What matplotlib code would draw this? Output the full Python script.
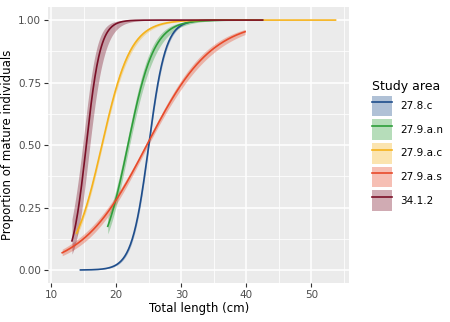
import numpy as np
import matplotlib
matplotlib.use("Agg")
import matplotlib.pyplot as plt
from matplotlib.patches import Patch
from matplotlib.lines import Line2D

# Logistic maturity ogives: L50 (cm), slope, length range,
# and the spread of the confidence band (logit scale).
areas = ["27.8.c", "27.9.a.n", "27.9.a.c", "27.9.a.s", "34.1.2"]
l50 = [25.0, 21.8, 17.8, 24.7, 15.4]
slope = [0.77, 0.50, 0.45, 0.20, 0.92]
x_min = [14.5, 18.7, 13.9, 11.7, 13.2]
x_max = [42.5, 41.0, 53.7, 39.8, 42.5]
se0 = [0.06, 0.13, 0.06, 0.05, 0.50]
se1 = [0.03, 0.06, 0.025, 0.015, 0.20]

line_colors = ["#1F4E8C", "#2E9E3A", "#F5B21C", "#E84A2A", "#7A1027"]

x_ticks = [10, 20, 30, 40, 50]
y_ticks = [0.0, 0.25, 0.50, 0.75, 1.00]

fig = plt.figure(figsize=(4.5, 3.22), dpi=100)
ax = fig.add_axes([0.107, 0.121, 0.669, 0.857])
ax.set_facecolor("#EBEBEB")

handles = []
for i, name in enumerate(areas):
    x = np.linspace(x_min[i], x_max[i], 300)
    eta = slope[i] * (x - l50[i])
    hw = np.sqrt(se0[i] ** 2 + (se1[i] * (x - l50[i])) ** 2)
    p = 1 / (1 + np.exp(-eta))
    lo = 1 / (1 + np.exp(-(eta - hw)))
    hi = 1 / (1 + np.exp(-(eta + hw)))
    ax.fill_between(x, lo, hi, color=line_colors[i], alpha=0.35, lw=0, zorder=2)
    ax.plot(x, p, color=line_colors[i], lw=1.2, zorder=3)
    handles.append((Patch(facecolor=line_colors[i], alpha=0.35, edgecolor="none"),
                    Line2D([], [], color=line_colors[i], lw=1.2)))

ax.set_xlim(9.54, 55.8)
ax.set_ylim(-0.052, 1.052)
ax.set_xticks(x_ticks)
ax.set_yticks(y_ticks)
ax.set_yticklabels(["%.2f" % v for v in y_ticks])
ax.set_xticks([15, 25, 35, 45, 55], minor=True)
ax.set_yticks([0.125, 0.375, 0.625, 0.875], minor=True)
ax.grid(which="major", color="white", lw=1.1)
ax.grid(which="minor", color="white", lw=0.55)
ax.set_axisbelow(True)
for s in ax.spines.values():
    s.set_visible(False)
ax.tick_params(which="major", length=3, width=0.8, color="#333333",
               labelsize=7.5, labelcolor="#4D4D4D", pad=2)
ax.tick_params(which="minor", length=0)

ax.set_xlabel("Total length (cm)", fontsize=8.5, color="black", labelpad=1.5)
ax.set_ylabel("Proportion of mature individuals", fontsize=8.5, color="black", labelpad=3)

leg = fig.legend(handles, areas, loc="upper left", bbox_to_anchor=(0.818, 0.765),
                 frameon=False, fontsize=7.5, title="Study area", title_fontsize=9,
                 handlelength=1.9, handleheight=2.7, labelspacing=0.27,
                 handletextpad=0.8, alignment="left", borderaxespad=0)

fig.savefig("out.png", dpi=100)
